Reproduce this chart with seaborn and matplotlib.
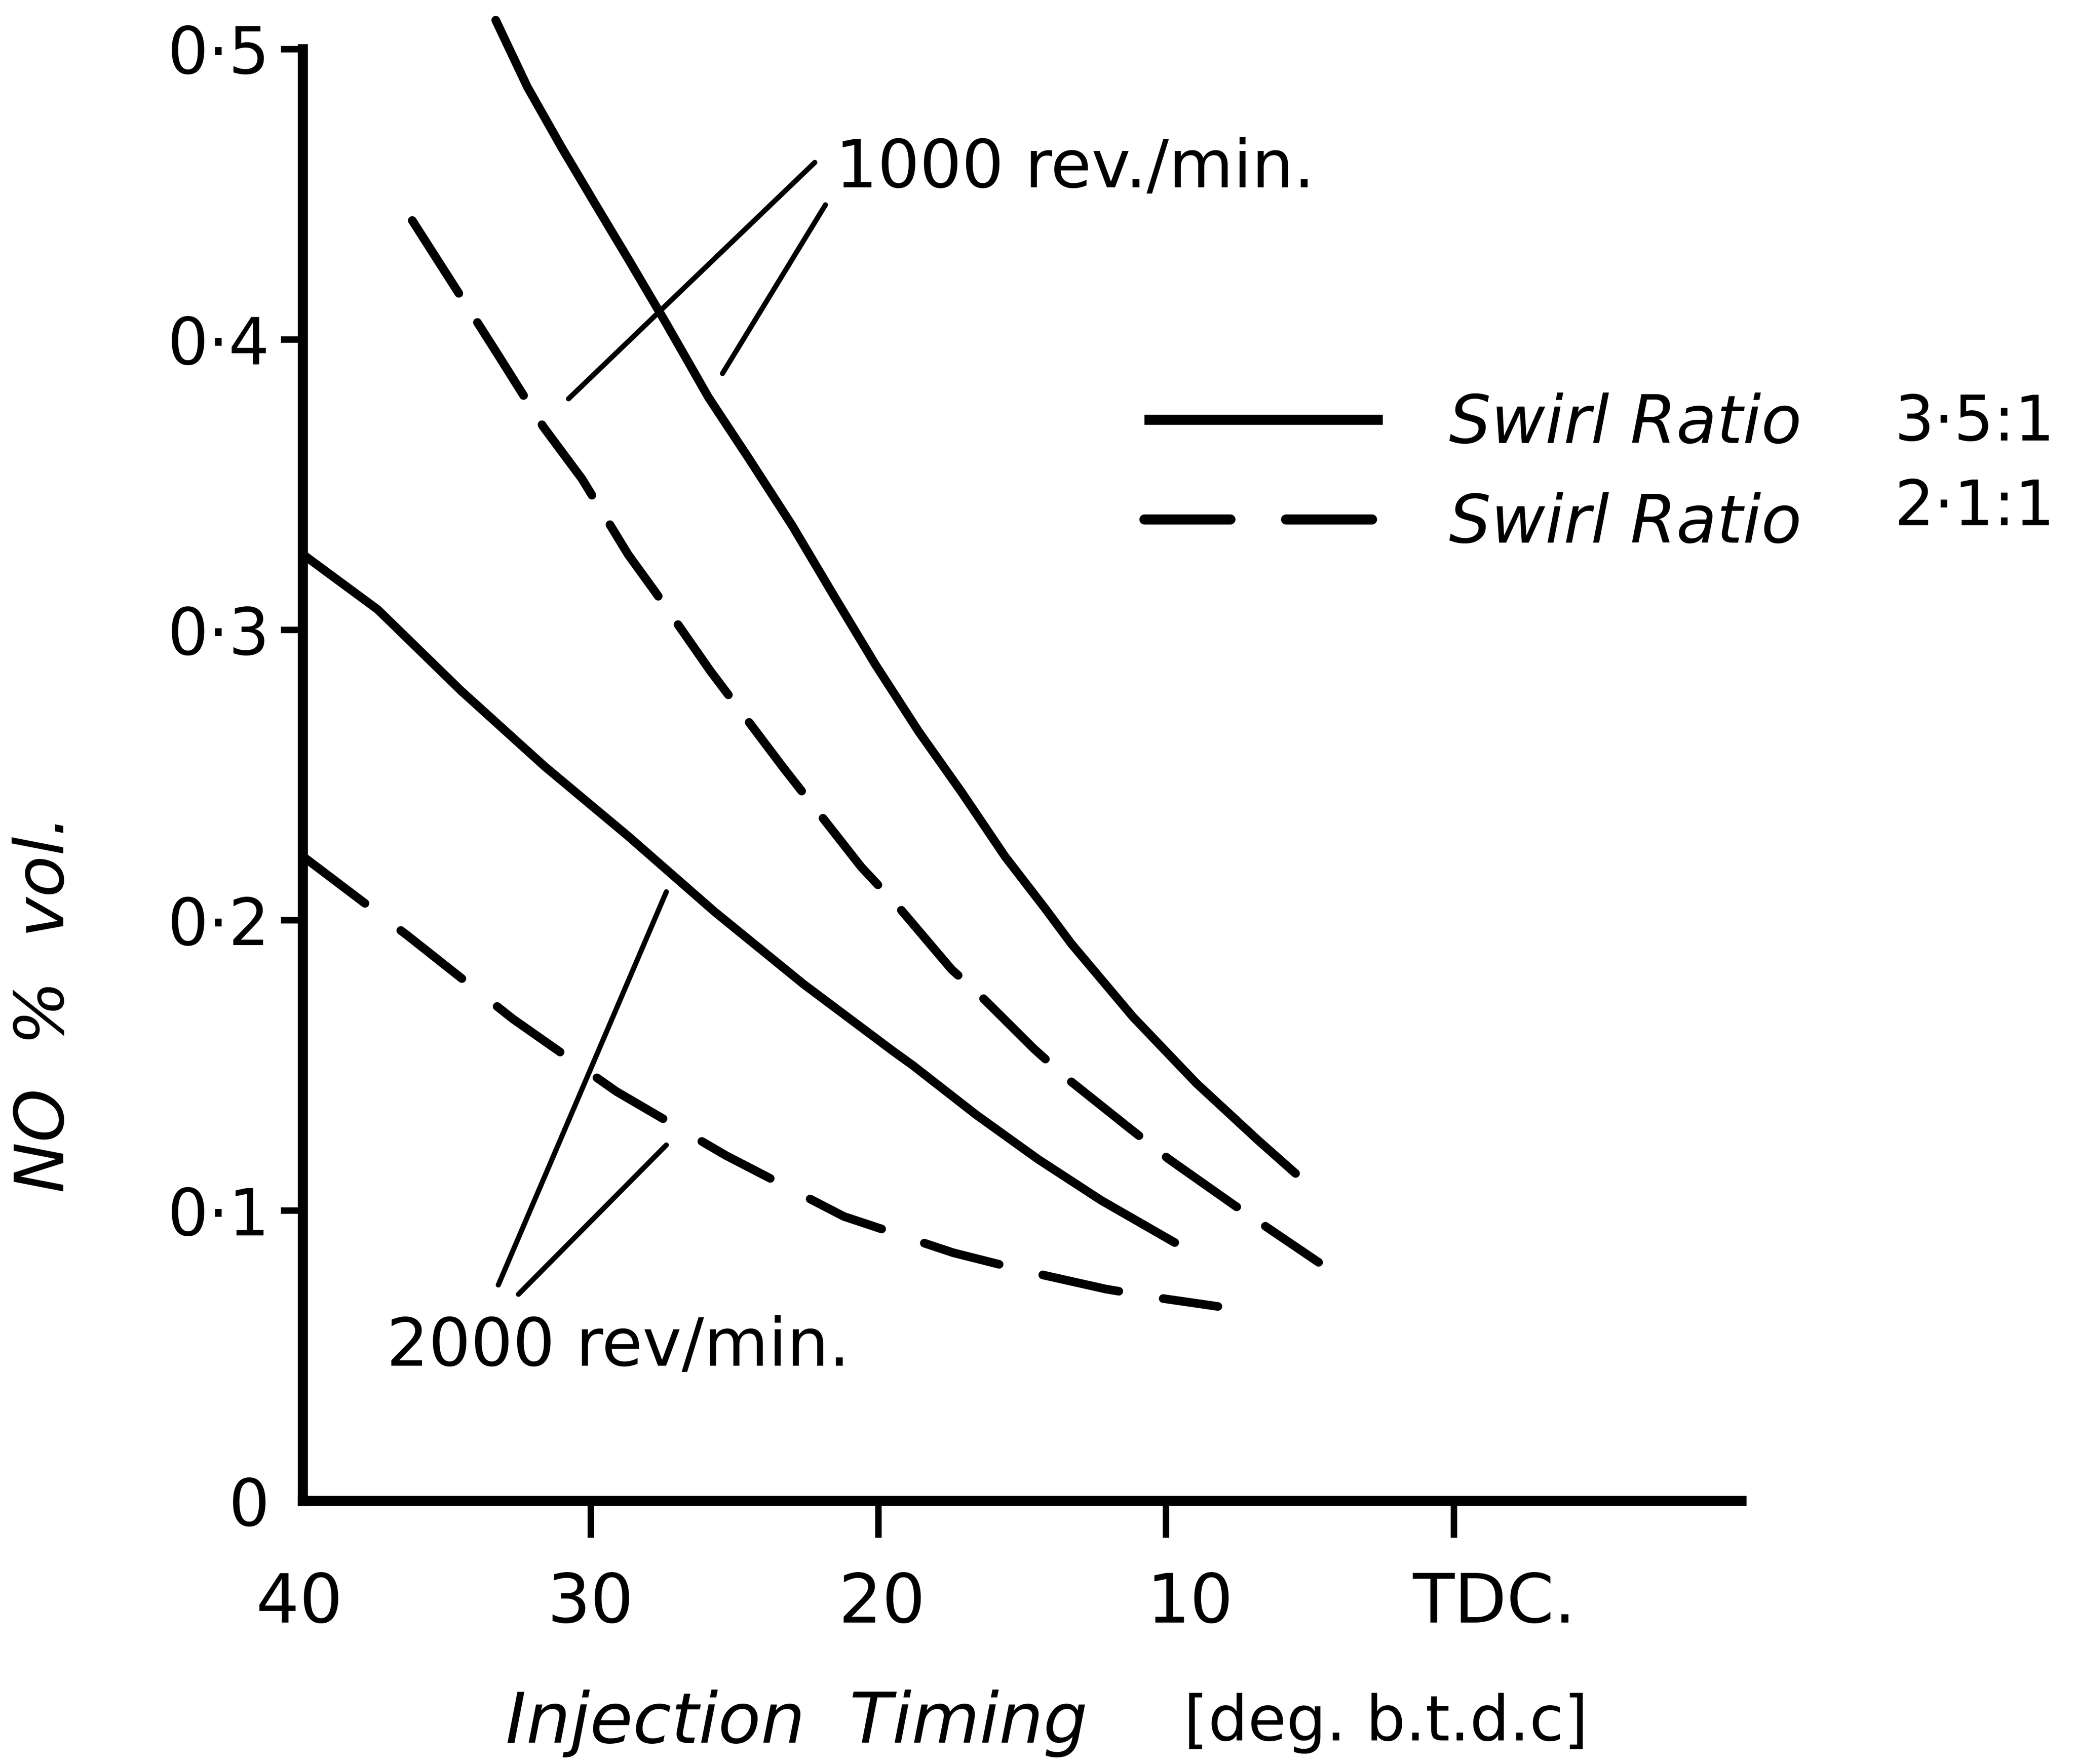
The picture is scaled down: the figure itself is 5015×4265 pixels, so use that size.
import pandas as pd
import seaborn as sns
import matplotlib.pyplot as plt
from matplotlib.lines import Line2D
from matplotlib.transforms import ScaledTranslation

# NO emission vs injection timing (deg before TDC)
timing_1000_swirl35 = [33.3, 32.2, 31.0, 29.8, 28.65, 27.4, 25.9, 24.5, 23.0, 21.5, 20.1,
                       18.6, 17.1, 15.6, 14.2, 13.3, 11.15, 8.95, 6.8, 5.5]
no_1000_swirl35 = [0.510, 0.487, 0.466, 0.446, 0.427, 0.406, 0.380, 0.359, 0.336, 0.311, 0.288,
                   0.265, 0.244, 0.222, 0.204, 0.192, 0.1667, 0.1439, 0.1242, 0.1128]

timing_1000_swirl21 = [36.2, 34.2, 33.3, 31.65, 30.3, 28.7, 27.75, 25.85, 23.3, 20.6, 19.3,
                       17.45, 16.6, 14.6, 13.5, 11.3, 9.9, 7.65, 4.7]
no_1000_swirl21 = [0.441, 0.410, 0.396, 0.370, 0.352, 0.326, 0.313, 0.286, 0.2525, 0.2184, 0.2046,
                   0.183, 0.1755, 0.1558, 0.146, 0.1286, 0.1177, 0.102, 0.0822]

timing_2000_swirl35 = [40.0, 37.4, 34.5, 31.6, 28.7, 25.7, 22.6, 19.5, 18.8, 16.6, 14.45, 12.25, 9.7]
no_2000_swirl35 = [0.326, 0.307, 0.279, 0.253, 0.229, 0.203, 0.178, 0.155, 0.150, 0.133, 0.1177, 0.1035, 0.089]

timing_2000_swirl21 = [40.0, 36.4, 32.7, 29.1, 25.3, 21.2, 17.4, 14.8, 12.1, 10.3, 8.2]
no_2000_swirl21 = [0.222, 0.195, 0.166, 0.141, 0.119, 0.098, 0.0855, 0.079, 0.073, 0.070, 0.067]

x_ticks = [40, 30, 20, 10, 0]
x_tick_labels = ['40', '30', '20', '10', 'TDC.']
y_ticks = [0, 0.1, 0.2, 0.3, 0.4, 0.5]
y_tick_labels = ['0', '0·1', '0·2', '0·3', '0·4', '0·5']

# leader lines from the speed labels to the curves (timing, NO)
leaders_1000 = [((30.77, 0.3796), (22.21, 0.461)), ((25.42, 0.3883), (21.84, 0.4464))]
leaders_2000 = [((33.21, 0.0744), (27.37, 0.2098)), ((32.51, 0.0712), (27.37, 0.1226))]

frames = []
for speed, swirl, t, v in [
    ('1000', '3·5:1', timing_1000_swirl35, no_1000_swirl35),
    ('1000', '2·1:1', timing_1000_swirl21, no_1000_swirl21),
    ('2000', '3·5:1', timing_2000_swirl35, no_2000_swirl35),
    ('2000', '2·1:1', timing_2000_swirl21, no_2000_swirl21),
]:
    frames.append(pd.DataFrame({'timing': t, 'no': v, 'speed': speed, 'swirl': swirl}))
df = pd.concat(frames, ignore_index=True)

LW = 4.7
line_styles = {
    ('1000', '3·5:1'): '-',
    ('1000', '2·1:1'): (0, (10, 4.0)),
    ('2000', '3·5:1'): '-',
    ('2000', '2·1:1'): (0, (9, 5.2)),
}

sns.set_style('ticks')
plt.rcParams['font.family'] = ['DejaVu Sans']
plt.rcParams.update({'text.color': 'black', 'axes.labelcolor': 'black',
                     'xtick.color': 'black', 'ytick.color': 'black'})

fig = plt.figure(figsize=(5015 / 320, 4265 / 320), dpi=320)
ax = fig.add_axes([0.146, 0.1491, 0.6933, 0.823])

for (speed, swirl), sub in df.groupby(['speed', 'swirl']):
    sns.lineplot(data=sub, x='timing', y='no', ax=ax, color='black', lw=LW,
                 linestyle=line_styles[(speed, swirl)], sort=False, estimator=None,
                 solid_capstyle='round', dash_capstyle='round', clip_on=False)

for start, end in leaders_1000 + leaders_2000:
    ax.annotate('', xy=end, xytext=start,
                arrowprops=dict(arrowstyle='-', lw=2.8, color='black', shrinkA=0, shrinkB=0))

ax.text(21.5, 0.4587, '1000 rev./min.', fontsize=36, ha='left', va='center')
ax.text(37.1, 0.053, '2000 rev/min.', fontsize=36, ha='left', va='center')

ax.set_xlim(40, -10)
ax.set_ylim(0, 0.5)
ax.set_xticks(x_ticks)
ax.set_xticklabels(x_tick_labels, fontsize=37)
ax.set_yticks(y_ticks)
ax.set_yticklabels(y_tick_labels, fontsize=35)
ax.tick_params(axis='x', length=20, width=3.5, pad=18, color='black')
ax.tick_params(axis='y', length=12, width=3.5, pad=6, color='black')
ax.xaxis.get_major_ticks()[0].tick1line.set_visible(False)
ax.yaxis.get_major_ticks()[0].tick1line.set_visible(False)
# hand-lettered labels sit a little right of their ticks
for lbl, dx in zip(ax.get_xticklabels(), [-2, 0, 2, 13, 22]):
    lbl.set_transform(lbl.get_transform() + ScaledTranslation(dx / 72, 0, fig.dpi_scale_trans))
ax.set_xlabel('')
ax.set_ylabel('')

sns.despine(ax=ax)
for side in ['left', 'bottom']:
    ax.spines[side].set_linewidth(5.5)
    ax.spines[side].set_color('black')

# legend
handles = [
    Line2D([], [], color='black', lw=5.5, solid_capstyle='butt'),
    Line2D([], [], color='black', lw=5.5, linestyle=(0, (8.5, 5.5)), dash_capstyle='round'),
]
ax.legend(handles, ['Swirl Ratio', 'Swirl Ratio'], loc='upper left',
          bbox_to_anchor=(0.5516, 0.7775), bbox_transform=fig.transFigure,
          frameon=False, borderpad=0, borderaxespad=0, handlelength=3.6,
          handletextpad=1.0, labelspacing=0.54,
          prop={'size': 36, 'style': 'italic'})
fig.text(0.913, 0.760, '3·5:1', fontsize=34, ha='left', va='center')
fig.text(0.913, 0.712, '2·1:1', fontsize=34, ha='left', va='center')

# axis titles
fig.text(0.0216, 0.431, 'NO  %  vol.', fontsize=37, style='italic',
         rotation=90, ha='center', va='center')
fig.text(0.384, 0.023, 'Injection  Timing', fontsize=38, style='italic',
         ha='center', va='center')
fig.text(0.668, 0.023, '[deg. b.t.d.c]', fontsize=34, ha='center', va='center')

fig.savefig('out.png', dpi=320, facecolor='white')
